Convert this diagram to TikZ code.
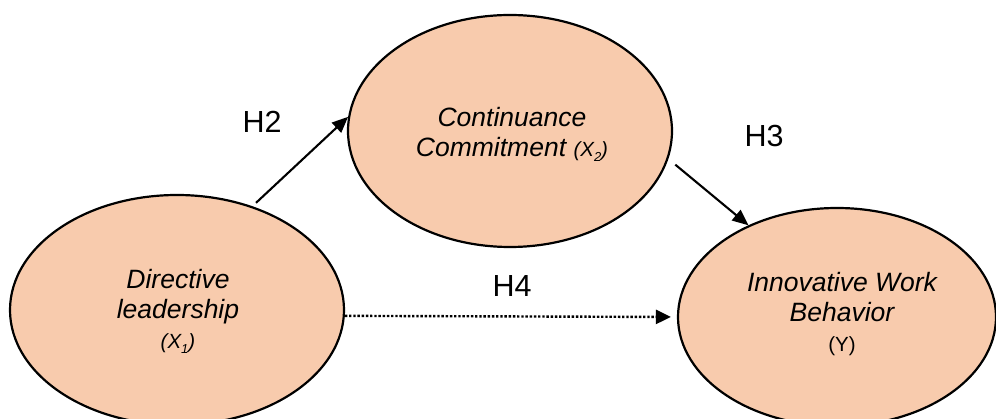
\documentclass[tikz,border=0pt]{standalone}
\usepackage{fontspec}
\setmainfont{Liberation Sans}
\usetikzlibrary{shapes.geometric,arrows.meta}
\definecolor{peach}{HTML}{F8CBAD}
\newcommand{\bigtxt}{\fontsize{26.5}{30}\selectfont}
\newcommand{\smalltxt}{\fontsize{20.5}{28}\selectfont}
\newcommand{\hsub}[1]{\raisebox{-0.25em}{\fontsize{13}{13}\selectfont #1}}
\tikzset{
  var/.style={ellipse, draw=black, line width=2.2pt, fill=peach, inner sep=0pt},
  vartext/.style={align=center, inner sep=0pt, font=\bigtxt},
  hlabel/.style={anchor=base, inner sep=0pt, font=\fontsize{30.5}{36}\selectfont},
  arr/.style={line width=2.1pt, -{Triangle[length=16pt,width=13.5pt]}},
  dotarr/.style={line width=2.4pt, dash pattern=on 2.4pt off 1.8pt, -{Triangle[length=15pt,width=14pt]}}
}
\begin{document}
\begin{tikzpicture}[x=1pt,y=-1pt]
\useasboundingbox (0,0) rectangle (996,419);
\node[var, minimum width=334pt, minimum height=230pt] (dl) at (177,310) {};
\node[var, minimum width=324pt, minimum height=232pt] (cc) at (510,131) {};
\node[var, minimum width=318pt, minimum height=218pt] (iw) at (837,317) {};

\node[vartext] (dlt) at (178,311) {\itshape Directive\\ \itshape leadership\\ {\smalltxt\itshape (X\hsub{1})}};
\node[vartext] (cct) at (512,134) {\itshape Continuance\\ \itshape Commitment {\smalltxt\itshape (X\hsub{2})}};
\node[vartext] (iwt) at (842,314) {\itshape Innovative Work\\ \itshape Behavior\\ {\smalltxt (Y)}};

\node[hlabel] (h2) at (262,133) {H2};
\node[hlabel] (h3) at (764,147) {H3};
\node[hlabel] (h4) at (512,297) {H4};

\draw[arr, shorten <=5pt] (dl.54) -- (cc.175);
\draw[arr, shorten <=9pt] (cc.-10) -- (iw.134);
\draw[dotarr, shorten >=6pt] (dl.-2.4) -- (iw.180);
\end{tikzpicture}
\end{document}
